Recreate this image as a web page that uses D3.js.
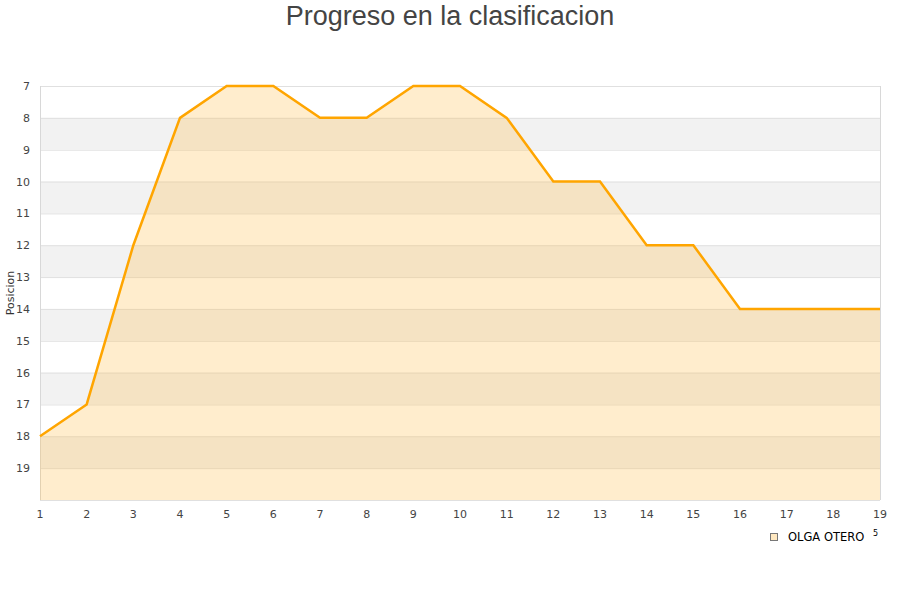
<!DOCTYPE html>
<html><head><meta charset="utf-8">
<script src="https://cdn.jsdelivr.net/npm/d3@7"></script>
<style>body{margin:0;background:#fff;font-family:"DejaVu Sans",sans-serif;}</style>
</head><body>
<svg id="c" width="900" height="600"></svg>
<script>
const jornadas = [1,2,3,4,5,6,7,8,9,10,11,12,13,14,15,16,17,18,19];
const posiciones = [18,17,12,8,7,7,8,8,7,7,8,10,10,12,12,14,14,14,14];
const yTicks = [7,8,9,10,11,12,13,14,15,16,17,18,19];
const seriesName = "OLGA OTERO";
const title = "Progreso en la clasificacion";
const yLabel = "Posicion";

const svg = d3.select("#c");
const L=40,R=880,T=86,B=500;
const x = d3.scaleLinear().domain([1,19]).range([L,R]);
const y = d3.scaleLinear().domain([7,20]).range([T,B]);

svg.append("text").attr("x",450).attr("y",25).attr("text-anchor","middle")
  .attr("font-size",27).attr("fill","#444").attr("font-family","'Liberation Sans',Arial,sans-serif").text(title);

// bands
const bands = d3.range(7,20);
svg.selectAll("rect.band").data(bands).enter().append("rect")
  .attr("x",L).attr("width",R-L).attr("y",d=>y(d)).attr("height",d=>y(d+1)-y(d))
  .attr("fill",d=>d%2===0?"#f2f2f2":"#ffffff");

// grid
svg.selectAll("line.g").data(d3.range(7,21)).enter().append("line")
  .attr("x1",L).attr("x2",R).attr("y1",d=>y(d)+0.5).attr("y2",d=>y(d)+0.5)
  .attr("stroke","#e0e0e0").attr("stroke-width",1);
svg.append("line").attr("x1",L+0.5).attr("x2",L+0.5).attr("y1",T).attr("y2",B).attr("stroke","#d8d8d8");
svg.append("line").attr("x1",R+0.5).attr("x2",R+0.5).attr("y1",T).attr("y2",B).attr("stroke","#d8d8d8");

const data = jornadas.map((j,i)=>({j,p:posiciones[i]}));
const area = d3.area().x(d=>x(d.j)).y0(y(20)).y1(d=>y(d.p));
svg.append("path").datum(data).attr("d",area).attr("fill","#ffc04d").attr("fill-opacity",0.28);
const line = d3.line().x(d=>x(d.j)).y(d=>y(d.p));
svg.append("path").datum(data).attr("d",line).attr("fill","none").attr("stroke","#ffa500").attr("stroke-width",2.5);

// y axis labels
svg.selectAll("text.yt").data(yTicks).enter().append("text")
  .attr("x",30).attr("y",d=>y(d)+4).attr("text-anchor","end")
  .attr("font-size",11).attr("fill","#444").text(d=>d);
// x axis labels
svg.selectAll("text.xt").data(jornadas).enter().append("text")
  .attr("x",d=>x(d)).attr("y",518).attr("text-anchor","middle")
  .attr("font-size",11).attr("fill","#444").text(d=>d);

svg.append("text").attr("transform","translate(14,293) rotate(-90)").attr("text-anchor","middle")
  .attr("font-size",11).attr("fill","#333").text(yLabel);

// legend
svg.append("rect").attr("x",770.5).attr("y",533.5).attr("width",7).attr("height",7)
  .attr("fill","#ffe8c0").attr("stroke","#777").attr("stroke-width",1);
svg.append("text").attr("x",788).attr("y",541).attr("font-size",11.5).attr("fill","#000").text(seriesName);
svg.append("text").attr("x",873).attr("y",536).attr("font-size",8).attr("fill","#000").text("5");
</script>
</body></html>
